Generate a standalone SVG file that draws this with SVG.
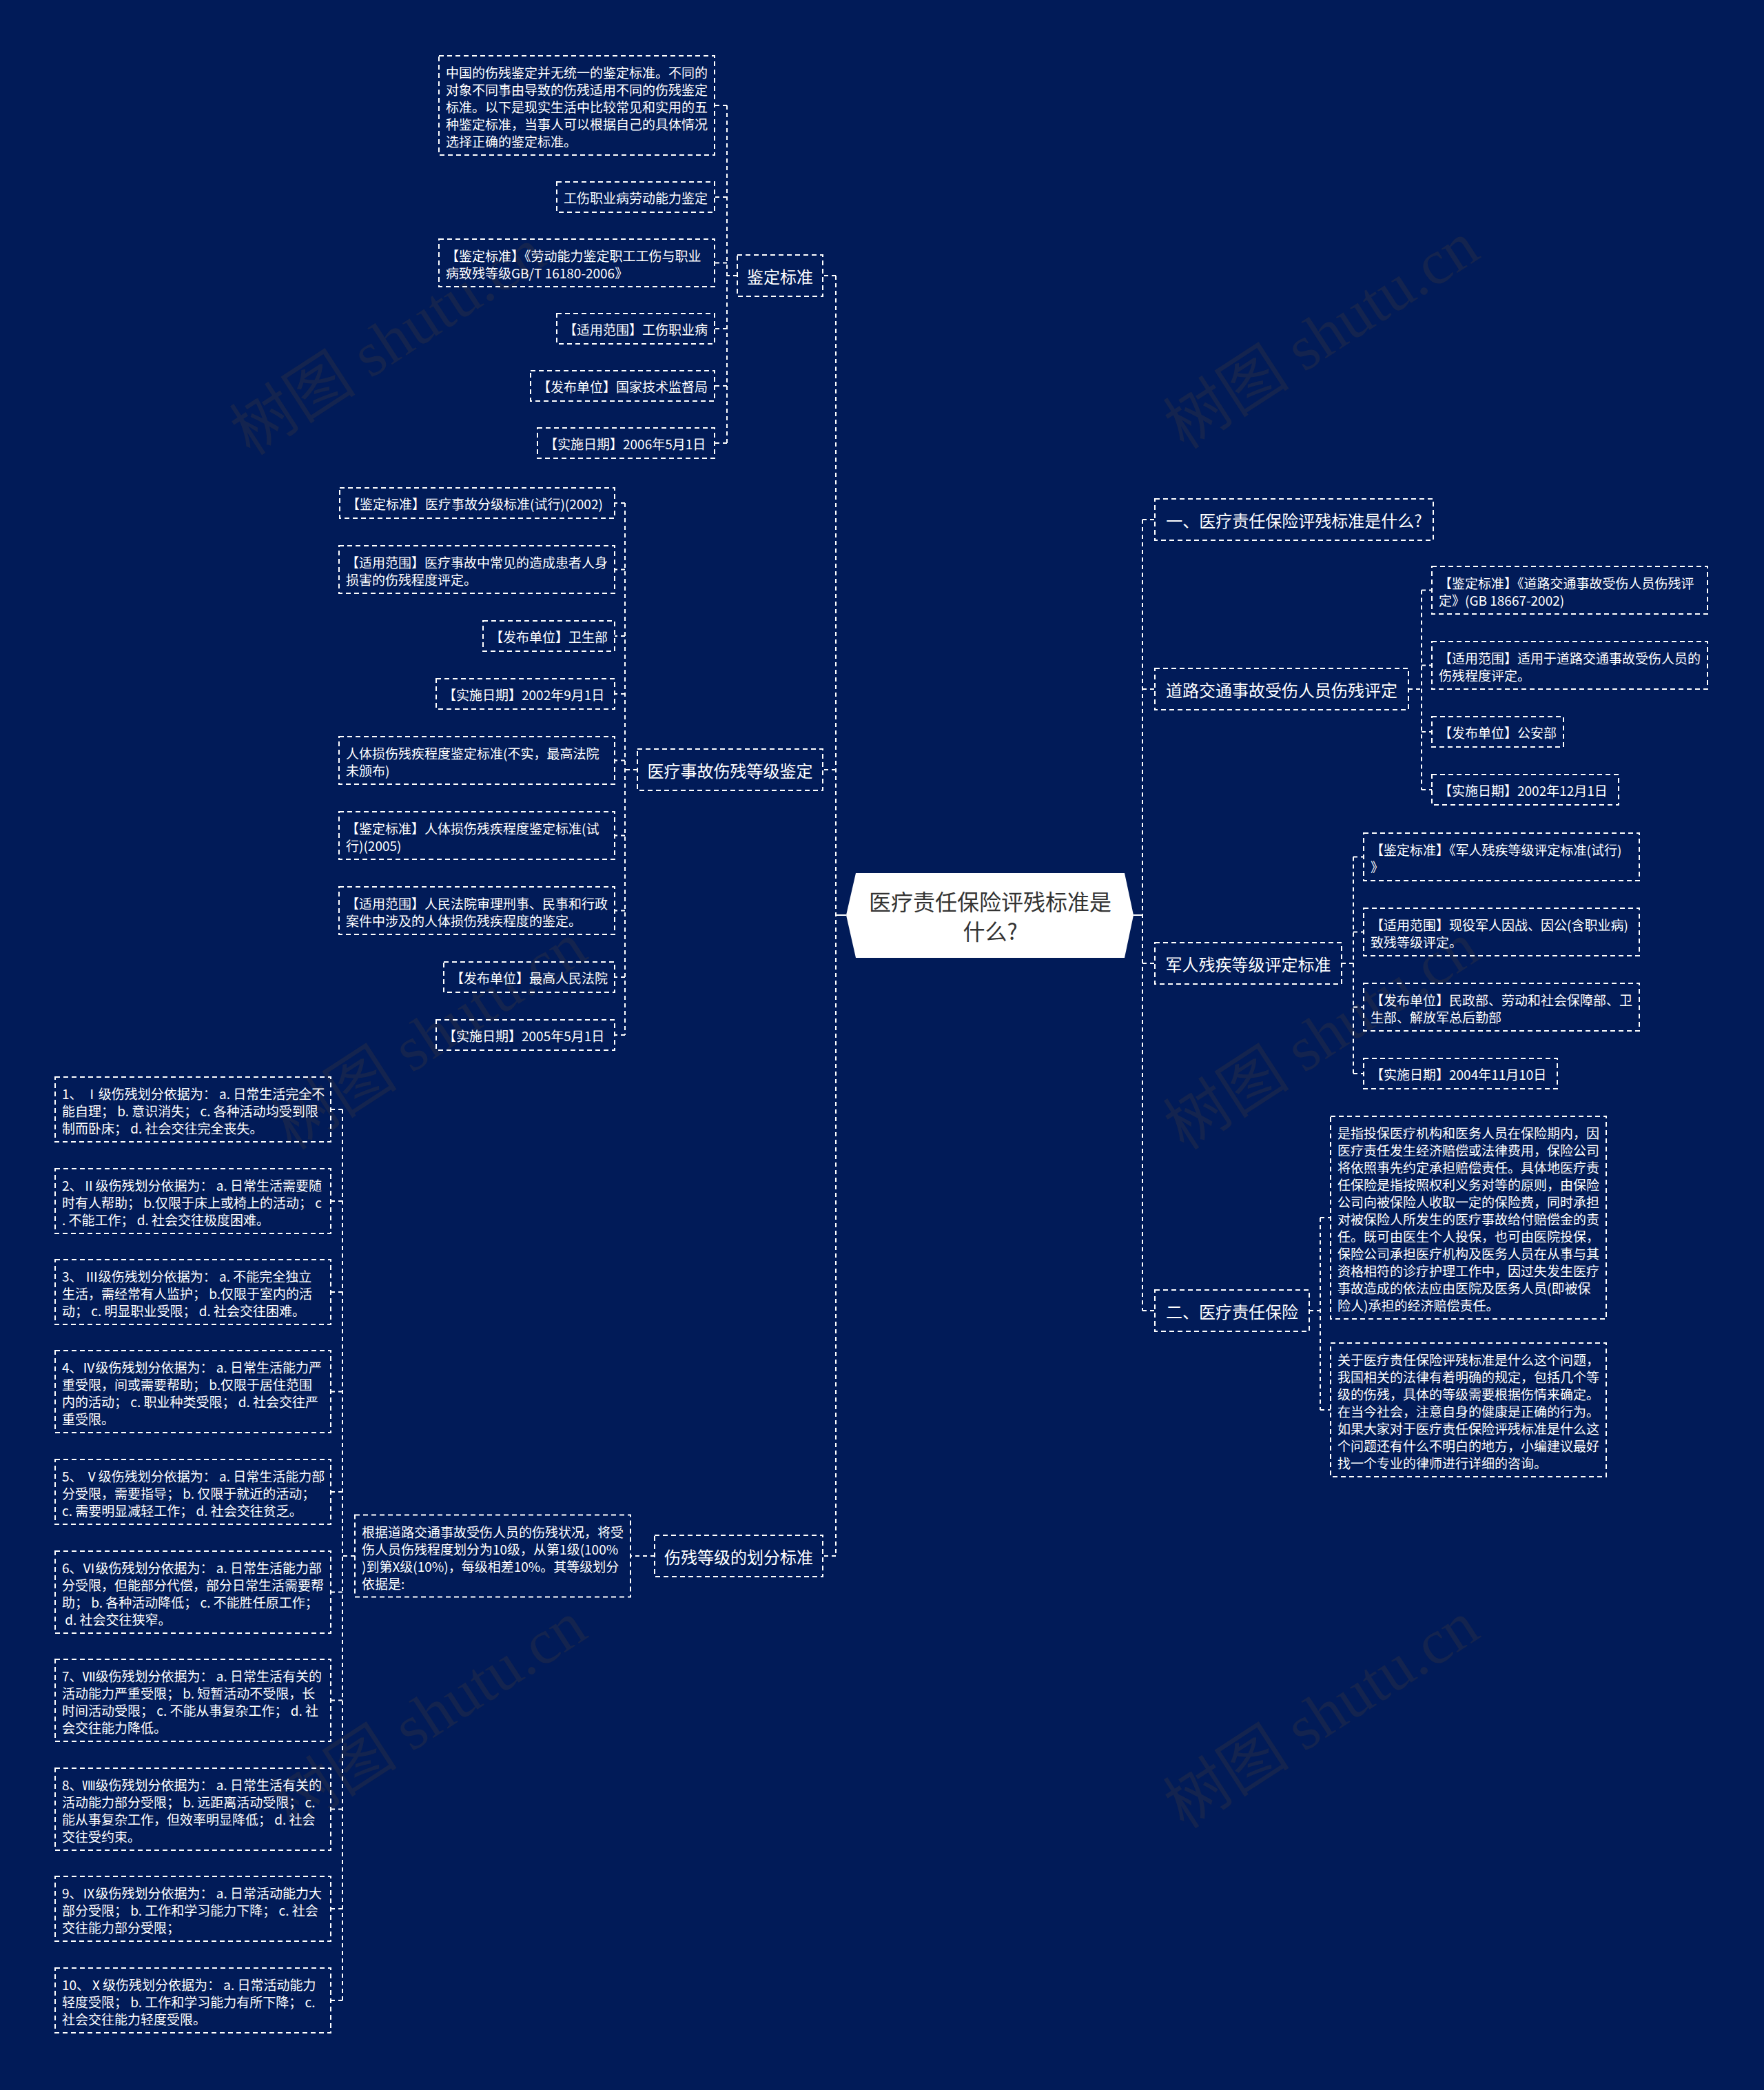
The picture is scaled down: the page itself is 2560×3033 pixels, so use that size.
<svg xmlns="http://www.w3.org/2000/svg" width="2560" height="3033" viewBox="0 0 2560 3033">
<style>
.bg{fill:#011b58}
.wm{font-family:"Liberation Serif","Noto Sans CJK SC",serif;font-size:92px;fill:#14244f}
.box{fill:none;stroke:#ffffff;stroke-width:2;stroke-dasharray:7 5}
.lnk{fill:none;stroke:#ffffff;stroke-width:2;stroke-dasharray:6 5}
.t{font-family:"Noto Sans CJK SC","Noto Sans",sans-serif;fill:#ffffff;dominant-baseline:central}
.s{font-size:19px}
.m{font-size:24px}
.root{fill:#ffffff}
.rt{font-family:"Noto Sans CJK SC","Noto Sans",sans-serif;font-size:32px;fill:#333333;dominant-baseline:central}
</style>
<rect class="bg" x="0" y="0" width="2560" height="3033"/>
<g id="watermarks">
<text class="wm" x="580" y="522" text-anchor="middle" transform="rotate(-33 580 522)">树图 shutu.cn</text>
<text class="wm" x="1935" y="513" text-anchor="middle" transform="rotate(-33 1935 513)">树图 shutu.cn</text>
<text class="wm" x="640" y="1530" text-anchor="middle" transform="rotate(-33 640 1530)">树图 shutu.cn</text>
<text class="wm" x="1935" y="1530" text-anchor="middle" transform="rotate(-33 1935 1530)">树图 shutu.cn</text>
<text class="wm" x="640" y="2515" text-anchor="middle" transform="rotate(-33 640 2515)">树图 shutu.cn</text>
<text class="wm" x="1935" y="2515" text-anchor="middle" transform="rotate(-33 1935 2515)">树图 shutu.cn</text>
</g>
<g id="connectors">
<path d="M1228 1328H1213" stroke="#fff" stroke-width="2" fill="none"/>
<path d="M1645 1328H1658" stroke="#fff" stroke-width="2" fill="none"/>
<path class="lnk" d="M1213 400V2258"/>
<path class="lnk" d="M1213 400H1194M1213 1117H1194M1213 2258H1194"/>
<path class="lnk" d="M1658 754V1902"/>
<path class="lnk" d="M1658 754H1676M1658 1000H1676M1658 1398H1676M1658 1902H1676"/>
<path class="lnk" d="M1070 400H1055M1055 153V643M1055 153H1037M1055 286H1037M1055 381.5H1037M1055 477H1037M1055 560H1037M1055 643H1037"/>
<path class="lnk" d="M925 1117H907M907 730V1502M907 730H892M907 826.5H892M907 923H892M907 1007H892M907 1103.5H892M907 1212.5H892M907 1321.5H892M907 1418H892M907 1502H892"/>
<path class="lnk" d="M950 2258H915"/>
<path class="lnk" d="M515 2258H497M497 1610V2903M497 1610H480M497 1743H480M497 1875H480M497 2019.5H480M497 2165H480M497 2310.5H480M497 2467.5H480M497 2625.5H480M497 2770H480M497 2903H480"/>
<path class="lnk" d="M2044 1000H2063M2063 856.5V1146M2063 856.5H2078M2063 965.5H2078M2063 1062H2078M2063 1146H2078"/>
<path class="lnk" d="M1947 1398H1964M1964 1243.5V1558M1964 1243.5H1979M1964 1352.5H1979M1964 1461.5H1979M1964 1558H1979"/>
<path class="lnk" d="M1900 1902H1916M1916 1767V2046M1916 1767H1931M1916 2046H1931"/>
</g>
<g id="root">
<polygon class="root" points="1242,1267 1632,1267 1645,1328 1632,1390 1242,1390 1228,1328"/>
<text class="rt" x="1437" y="1307" text-anchor="middle">医疗责任保险评残标准是</text>
<text class="rt" x="1437" y="1350" text-anchor="middle">什么?</text>
</g>
<g id="n-jdbz">
<rect class="box" x="1070" y="370" width="124" height="60"/>
<text class="t m" x="1132" y="400" text-anchor="middle">鉴定标准</text>
</g>
<g id="n-jdbz-1">
<rect class="box" x="637" y="81" width="400" height="144"/>
<text class="t s" x="647" y="104"><tspan x="647">中国的伤残鉴定并无统一的鉴定标准。不同的</tspan><tspan x="647" dy="25">对象不同事由导致的伤残适用不同的伤残鉴定</tspan><tspan x="647" dy="25">标准。以下是现实生活中比较常见和实用的五</tspan><tspan x="647" dy="25">种鉴定标准，当事人可以根据自己的具体情况</tspan><tspan x="647" dy="25">选择正确的鉴定标准。</tspan></text>
</g>
<g id="n-jdbz-2">
<rect class="box" x="808" y="264" width="229" height="44"/>
<text class="t s" x="818" y="286">工伤职业病劳动能力鉴定</text>
</g>
<g id="n-jdbz-3">
<rect class="box" x="637" y="347" width="400" height="69"/>
<text class="t s" x="647" y="370"><tspan x="647">【鉴定标准】《劳动能力鉴定职工工伤与职业</tspan><tspan x="647" dy="25">病致残等级GB/T 16180-2006》</tspan></text>
</g>
<g id="n-jdbz-4">
<rect class="box" x="808" y="455" width="229" height="44"/>
<text class="t s" x="818" y="477">【适用范围】工伤职业病</text>
</g>
<g id="n-jdbz-5">
<rect class="box" x="770" y="538" width="267" height="44"/>
<text class="t s" x="780" y="560">【发布单位】国家技术监督局</text>
</g>
<g id="n-jdbz-6">
<rect class="box" x="780" y="621" width="257" height="44"/>
<text class="t s" x="790" y="643">【实施日期】2006年5月1日</text>
</g>
<g id="n-ylsg">
<rect class="box" x="925" y="1087" width="269" height="60"/>
<text class="t m" x="1059.5" y="1117" text-anchor="middle">医疗事故伤残等级鉴定</text>
</g>
<g id="n-ylsg-1">
<rect class="box" x="493" y="708" width="399" height="44"/>
<text class="t s" x="503" y="730">【鉴定标准】医疗事故分级标准(试行)(2002)</text>
</g>
<g id="n-ylsg-2">
<rect class="box" x="492" y="792" width="400" height="69"/>
<text class="t s" x="502" y="815"><tspan x="502">【适用范围】医疗事故中常见的造成患者人身</tspan><tspan x="502" dy="25">损害的伤残程度评定。</tspan></text>
</g>
<g id="n-ylsg-3">
<rect class="box" x="701" y="901" width="191" height="44"/>
<text class="t s" x="711" y="923">【发布单位】卫生部</text>
</g>
<g id="n-ylsg-4">
<rect class="box" x="633" y="985" width="259" height="44"/>
<text class="t s" x="643" y="1007">【实施日期】2002年9月1日</text>
</g>
<g id="n-ylsg-5">
<rect class="box" x="492" y="1069" width="400" height="69"/>
<text class="t s" x="502" y="1092"><tspan x="502">人体损伤残疾程度鉴定标准(不实，最高法院</tspan><tspan x="502" dy="25">未颁布)</tspan></text>
</g>
<g id="n-ylsg-6">
<rect class="box" x="492" y="1178" width="400" height="69"/>
<text class="t s" x="502" y="1201"><tspan x="502">【鉴定标准】人体损伤残疾程度鉴定标准(试</tspan><tspan x="502" dy="25">行)(2005)</tspan></text>
</g>
<g id="n-ylsg-7">
<rect class="box" x="492" y="1287" width="400" height="69"/>
<text class="t s" x="502" y="1310"><tspan x="502">【适用范围】人民法院审理刑事、民事和行政</tspan><tspan x="502" dy="25">案件中涉及的人体损伤残疾程度的鉴定。</tspan></text>
</g>
<g id="n-ylsg-8">
<rect class="box" x="644" y="1396" width="248" height="44"/>
<text class="t s" x="654" y="1418">【发布单位】最高人民法院</text>
</g>
<g id="n-ylsg-9">
<rect class="box" x="633" y="1480" width="259" height="44"/>
<text class="t s" x="643" y="1502">【实施日期】2005年5月1日</text>
</g>
<g id="n-scdj">
<rect class="box" x="950" y="2228" width="244" height="60"/>
<text class="t m" x="1072" y="2258" text-anchor="middle">伤残等级的划分标准</text>
</g>
<g id="n-scdj-p">
<rect class="box" x="515" y="2198.5" width="400" height="119"/>
<text class="t s" x="525" y="2221.5"><tspan x="525">根据道路交通事故受伤人员的伤残状况，将受</tspan><tspan x="525" dy="25">伤人员伤残程度划分为10级，从第1级(100%</tspan><tspan x="525" dy="25">)到第X级(10%)，每级相差10%。其等级划分</tspan><tspan x="525" dy="25">依据是:</tspan></text>
</g>
<g id="n-lv1">
<rect class="box" x="80" y="1563" width="400" height="94"/>
<text class="t s" x="90" y="1586" xml:space="preserve"><tspan x="90">1、 Ⅰ级伤残划分依据为： a. 日常生活完全不</tspan><tspan x="90" dy="25">能自理； b. 意识消失； c. 各种活动均受到限</tspan><tspan x="90" dy="25">制而卧床； d. 社会交往完全丧失。</tspan></text>
</g>
<g id="n-lv2">
<rect class="box" x="80" y="1696" width="400" height="94"/>
<text class="t s" x="90" y="1719" xml:space="preserve"><tspan x="90">2、Ⅱ级伤残划分依据为： a. 日常生活需要随</tspan><tspan x="90" dy="25">时有人帮助； b.仅限于床上或椅上的活动； c</tspan><tspan x="90" dy="25">. 不能工作； d. 社会交往极度困难。</tspan></text>
</g>
<g id="n-lv3">
<rect class="box" x="80" y="1828" width="400" height="94"/>
<text class="t s" x="90" y="1851" xml:space="preserve"><tspan x="90">3、 Ⅲ级伤残划分依据为： a. 不能完全独立</tspan><tspan x="90" dy="25">生活，需经常有人监护； b.仅限于室内的活</tspan><tspan x="90" dy="25">动； c. 明显职业受限； d. 社会交往困难。</tspan></text>
</g>
<g id="n-lv4">
<rect class="box" x="80" y="1960" width="400" height="119"/>
<text class="t s" x="90" y="1983" xml:space="preserve"><tspan x="90">4、Ⅳ级伤残划分依据为： a. 日常生活能力严</tspan><tspan x="90" dy="25">重受限，间或需要帮助； b.仅限于居住范围</tspan><tspan x="90" dy="25">内的活动； c. 职业种类受限； d. 社会交往严</tspan><tspan x="90" dy="25">重受限。</tspan></text>
</g>
<g id="n-lv5">
<rect class="box" x="80" y="2118" width="400" height="94"/>
<text class="t s" x="90" y="2141" xml:space="preserve"><tspan x="90">5、 Ⅴ级伤残划分依据为： a. 日常生活能力部</tspan><tspan x="90" dy="25">分受限，需要指导； b. 仅限于就近的活动；</tspan><tspan x="90" dy="25">c. 需要明显减轻工作； d. 社会交往贫乏。</tspan></text>
</g>
<g id="n-lv6">
<rect class="box" x="80" y="2251" width="400" height="119"/>
<text class="t s" x="90" y="2274" xml:space="preserve"><tspan x="90">6、Ⅵ级伤残划分依据为： a. 日常生活能力部</tspan><tspan x="90" dy="25">分受限，但能部分代偿，部分日常生活需要帮</tspan><tspan x="90" dy="25">助； b. 各种活动降低； c. 不能胜任原工作；</tspan><tspan x="90" dy="25"> d. 社会交往狭窄。</tspan></text>
</g>
<g id="n-lv7">
<rect class="box" x="80" y="2408" width="400" height="119"/>
<text class="t s" x="90" y="2431" xml:space="preserve"><tspan x="90">7、Ⅶ级伤残划分依据为： a. 日常生活有关的</tspan><tspan x="90" dy="25">活动能力严重受限； b. 短暂活动不受限，长</tspan><tspan x="90" dy="25">时间活动受限； c. 不能从事复杂工作； d. 社</tspan><tspan x="90" dy="25">会交往能力降低。</tspan></text>
</g>
<g id="n-lv8">
<rect class="box" x="80" y="2566" width="400" height="119"/>
<text class="t s" x="90" y="2589" xml:space="preserve"><tspan x="90">8、Ⅷ级伤残划分依据为： a. 日常生活有关的</tspan><tspan x="90" dy="25">活动能力部分受限； b. 远距离活动受限； c.</tspan><tspan x="90" dy="25">能从事复杂工作，但效率明显降低； d. 社会</tspan><tspan x="90" dy="25">交往受约束。</tspan></text>
</g>
<g id="n-lv9">
<rect class="box" x="80" y="2723" width="400" height="94"/>
<text class="t s" x="90" y="2746" xml:space="preserve"><tspan x="90">9、Ⅸ级伤残划分依据为： a. 日常活动能力大</tspan><tspan x="90" dy="25">部分受限； b. 工作和学习能力下降； c. 社会</tspan><tspan x="90" dy="25">交往能力部分受限；</tspan></text>
</g>
<g id="n-lv10">
<rect class="box" x="80" y="2856" width="400" height="94"/>
<text class="t s" x="90" y="2879" xml:space="preserve"><tspan x="90">10、Ⅹ级伤残划分依据为： a. 日常活动能力</tspan><tspan x="90" dy="25">轻度受限； b. 工作和学习能力有所下降； c.</tspan><tspan x="90" dy="25">社会交往能力轻度受限。</tspan></text>
</g>
<g id="n-q1">
<rect class="box" x="1676" y="724" width="404" height="60"/>
<text class="t m" x="1878" y="754" text-anchor="middle">一、医疗责任保险评残标准是什么?</text>
</g>
<g id="n-dljt">
<rect class="box" x="1676" y="970" width="368" height="60"/>
<text class="t m" x="1860" y="1000" text-anchor="middle">道路交通事故受伤人员伤残评定</text>
</g>
<g id="n-dljt-1">
<rect class="box" x="2078" y="822" width="400" height="69"/>
<text class="t s" x="2088" y="845"><tspan x="2088">【鉴定标准】《道路交通事故受伤人员伤残评</tspan><tspan x="2088" dy="25">定》(GB 18667-2002)</tspan></text>
</g>
<g id="n-dljt-2">
<rect class="box" x="2078" y="931" width="400" height="69"/>
<text class="t s" x="2088" y="954"><tspan x="2088">【适用范围】适用于道路交通事故受伤人员的</tspan><tspan x="2088" dy="25">伤残程度评定。</tspan></text>
</g>
<g id="n-dljt-3">
<rect class="box" x="2078" y="1040" width="191" height="44"/>
<text class="t s" x="2088" y="1062">【发布单位】公安部</text>
</g>
<g id="n-dljt-4">
<rect class="box" x="2078" y="1124" width="271" height="44"/>
<text class="t s" x="2088" y="1146">【实施日期】2002年12月1日</text>
</g>
<g id="n-jr">
<rect class="box" x="1676" y="1368" width="271" height="60"/>
<text class="t m" x="1811.5" y="1398" text-anchor="middle">军人残疾等级评定标准</text>
</g>
<g id="n-jr-1">
<rect class="box" x="1979" y="1209" width="400" height="69"/>
<text class="t s" x="1989" y="1232"><tspan x="1989">【鉴定标准】《军人残疾等级评定标准(试行)</tspan><tspan x="1989" dy="25">》</tspan></text>
</g>
<g id="n-jr-2">
<rect class="box" x="1979" y="1318" width="400" height="69"/>
<text class="t s" x="1989" y="1341"><tspan x="1989">【适用范围】现役军人因战、因公(含职业病)</tspan><tspan x="1989" dy="25">致残等级评定。</tspan></text>
</g>
<g id="n-jr-3">
<rect class="box" x="1979" y="1427" width="400" height="69"/>
<text class="t s" x="1989" y="1450"><tspan x="1989">【发布单位】民政部、劳动和社会保障部、卫</tspan><tspan x="1989" dy="25">生部、解放军总后勤部</tspan></text>
</g>
<g id="n-jr-4">
<rect class="box" x="1979" y="1536" width="281" height="44"/>
<text class="t s" x="1989" y="1558">【实施日期】2004年11月10日</text>
</g>
<g id="n-q2">
<rect class="box" x="1676" y="1872" width="224" height="60"/>
<text class="t m" x="1788" y="1902" text-anchor="middle">二、医疗责任保险</text>
</g>
<g id="n-q2-1">
<rect class="box" x="1931" y="1620" width="400" height="294"/>
<text class="t s" x="1941" y="1643"><tspan x="1941">是指投保医疗机构和医务人员在保险期内，因</tspan><tspan x="1941" dy="25">医疗责任发生经济赔偿或法律费用，保险公司</tspan><tspan x="1941" dy="25">将依照事先约定承担赔偿责任。具体地医疗责</tspan><tspan x="1941" dy="25">任保险是指按照权利义务对等的原则，由保险</tspan><tspan x="1941" dy="25">公司向被保险人收取一定的保险费，同时承担</tspan><tspan x="1941" dy="25">对被保险人所发生的医疗事故给付赔偿金的责</tspan><tspan x="1941" dy="25">任。既可由医生个人投保，也可由医院投保，</tspan><tspan x="1941" dy="25">保险公司承担医疗机构及医务人员在从事与其</tspan><tspan x="1941" dy="25">资格相符的诊疗护理工作中，因过失发生医疗</tspan><tspan x="1941" dy="25">事故造成的依法应由医院及医务人员(即被保</tspan><tspan x="1941" dy="25">险人)承担的经济赔偿责任。</tspan></text>
</g>
<g id="n-q2-2">
<rect class="box" x="1931" y="1949" width="400" height="194"/>
<text class="t s" x="1941" y="1972"><tspan x="1941">关于医疗责任保险评残标准是什么这个问题，</tspan><tspan x="1941" dy="25">我国相关的法律有着明确的规定，包括几个等</tspan><tspan x="1941" dy="25">级的伤残，具体的等级需要根据伤情来确定。</tspan><tspan x="1941" dy="25">在当今社会，注意自身的健康是正确的行为。</tspan><tspan x="1941" dy="25">如果大家对于医疗责任保险评残标准是什么这</tspan><tspan x="1941" dy="25">个问题还有什么不明白的地方，小编建议最好</tspan><tspan x="1941" dy="25">找一个专业的律师进行详细的咨询。</tspan></text>
</g>
</svg>
